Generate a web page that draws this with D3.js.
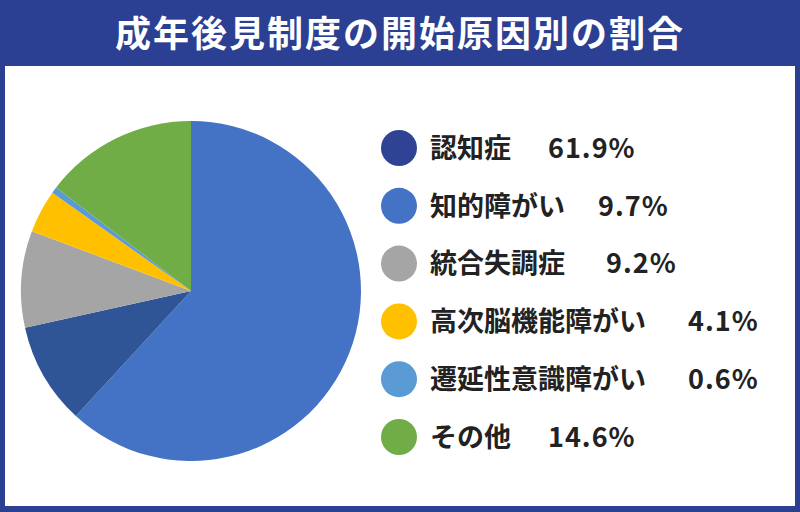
<!DOCTYPE html>
<html><head><meta charset="utf-8">
<script src="https://cdn.jsdelivr.net/npm/d3@7"></script>
<style>body{margin:0;}svg{display:block;font-family:"Noto Sans CJK JP","Noto Sans",sans-serif;}</style>
</head><body>
<script>
var labels = ["認知症", "知的障がい", "統合失調症", "高次脳機能障がい", "遷延性意識障がい", "その他"];
var values = [61.9, 9.7, 9.2, 4.1, 0.6, 14.6];
var valueText = ["61.9%", "9.7%", "9.2%", "4.1%", "0.6%", "14.6%"];
var pieColors = ["#4472c4", "#2f5597", "#a5a5a5", "#ffc000", "#5b9bd5", "#70ad47"];
var legendColors = ["#2e4394", "#4472c4", "#a5a5a5", "#ffc000", "#5b9bd5", "#70ad47"];
var valueX = [548, 598, 606, 688, 688, 548];

var width = 800, height = 512;
var svg = d3.select("body").append("svg").attr("width", width).attr("height", height);

svg.append("rect").attr("width", width).attr("height", height).attr("fill", "#2b3f93");
svg.append("rect").attr("x", 5).attr("y", 66).attr("width", 790).attr("height", 440).attr("fill", "#fff");
svg.append("text").attr("x", 400).attr("y", 47).attr("text-anchor", "middle")
    .attr("fill", "#fff").attr("font-size", 36).attr("font-weight", "bold").attr("letter-spacing", 2)
    .text("成年後見制度の開始原因別の割合");

var pie = d3.pie().sort(null).value(d => d);
var arc = d3.arc().innerRadius(0).outerRadius(170);
svg.append("g").attr("transform", "translate(191,291)")
    .selectAll("path").data(pie(values)).enter().append("path")
    .attr("d", arc).attr("fill", (d, i) => pieColors[i]);

var y = d3.scalePoint().domain(d3.range(labels.length)).range([148, 437]);
var leg = svg.append("g").selectAll("g").data(labels).enter().append("g")
    .attr("transform", (d, i) => "translate(0," + y(i) + ")");
leg.append("circle").attr("cx", 399).attr("r", 18).attr("fill", (d, i) => legendColors[i]);
leg.append("text").attr("x", 430).attr("dy", "0.36em").attr("font-size", 27).attr("font-weight", "bold")
    .attr("fill", "#222").text(d => d);
leg.append("text").attr("x", (d, i) => valueX[i]).attr("dy", "0.36em").attr("font-size", 27)
    .attr("font-weight", "bold").attr("fill", "#222").attr("letter-spacing", 1).text((d, i) => valueText[i]);
</script>
</body></html>
